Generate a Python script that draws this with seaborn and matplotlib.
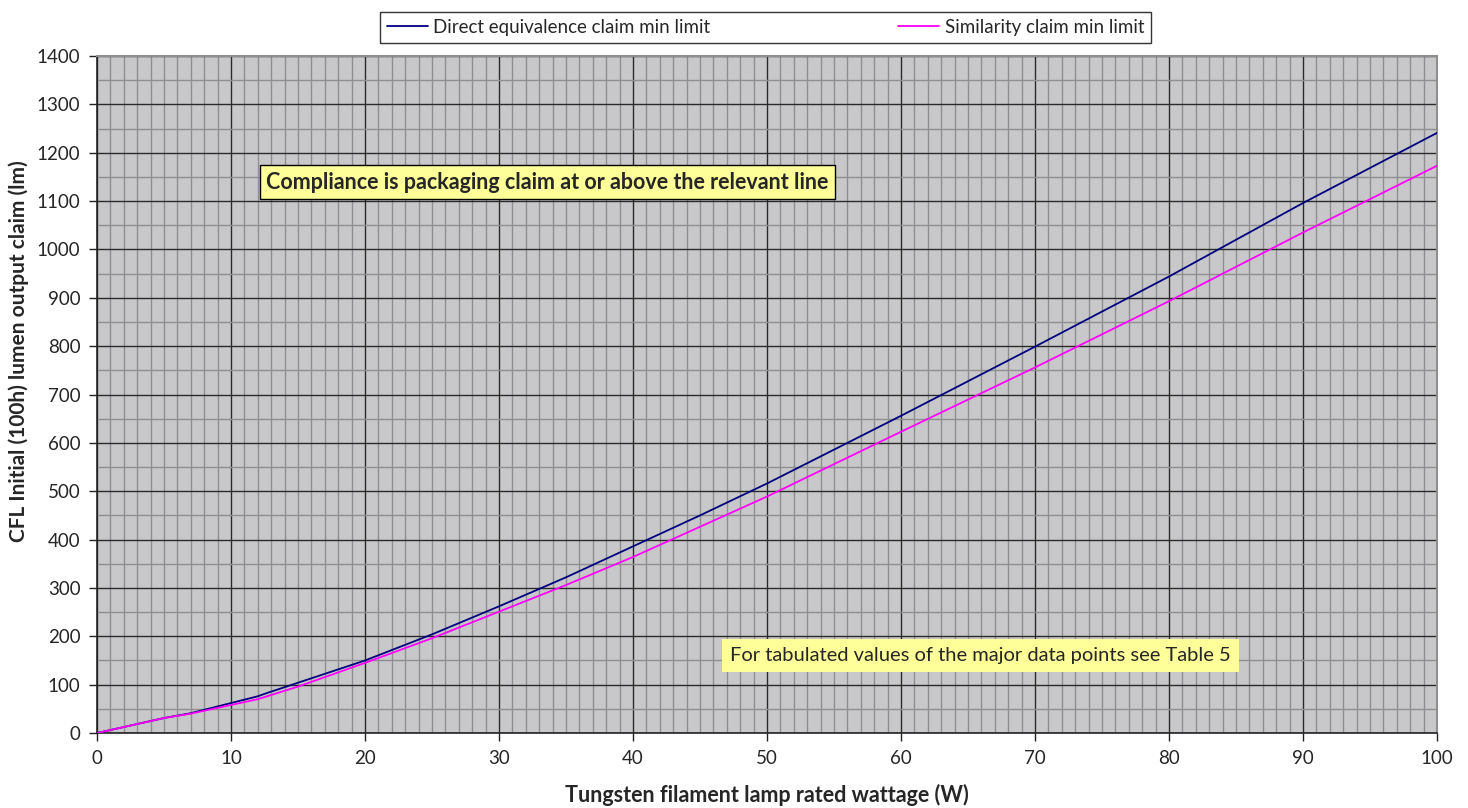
import pandas as pd
import matplotlib.pyplot as plt
import seaborn as sns
from matplotlib.ticker import MultipleLocator

# values
direct_w = [0, 5, 7, 8, 10, 12, 12.5, 15, 20, 25, 30, 35, 40, 45, 50, 60, 70, 80, 85, 90, 100]
direct_lm = [0, 31, 41, 48, 62, 76, 81, 104, 150, 204, 262, 322, 386, 450, 516, 656, 799, 944, 1020, 1096, 1241]

similar_w = [0, 5, 7, 10, 12, 15, 20, 25, 30, 35, 40, 50, 60, 70, 80, 90, 100]
similar_lm = [0, 31, 40, 58, 70, 96, 145, 196, 251, 306, 364, 489, 623, 756, 893, 1035, 1173]

df = pd.concat([
    pd.DataFrame({'w': direct_w, 'lm': direct_lm, 'serie': 'Direct equivalence claim min limit'}),
    pd.DataFrame({'w': similar_w, 'lm': similar_lm, 'serie': 'Similarity claim min limit'}),
])

sns.set_style('white')
plt.rcParams['font.family'] = ['Lato', 'DejaVu Sans']

fig = plt.figure(figsize=(14.68, 8.08), dpi=100)
ax = fig.add_axes([0.0661, 0.0928, 0.9128, 0.8379])
ax.set_facecolor('#c8c8ca')

sns.lineplot(data=df, x='w', y='lm', hue='serie', palette=['#000080', '#ff00ff'],
             linewidth=1.3, ax=ax, legend=True, zorder=5)

ax.set_xlim(0, 100)
ax.set_ylim(0, 1400)
ax.xaxis.set_major_locator(MultipleLocator(10))
ax.xaxis.set_minor_locator(MultipleLocator(1))
ax.yaxis.set_major_locator(MultipleLocator(100))
ax.yaxis.set_minor_locator(MultipleLocator(50))
ax.grid(which='minor', color='#8f8f8f', linewidth=1.0, zorder=1)
ax.grid(which='major', color='#2a2a2a', linewidth=1.0, zorder=2)
ax.set_axisbelow(True)
ax.tick_params(which='major', direction='out', length=6, width=1, color='#222222',
               labelsize=13.5, pad=6, left=True, bottom=True)
ax.tick_params(which='minor', length=0)

for s in ['left', 'bottom']:
    ax.spines[s].set_color('#222222')
    ax.spines[s].set_linewidth(1.2)
for s in ['top', 'right']:
    ax.spines[s].set_color('#8f8f8f')
    ax.spines[s].set_linewidth(1.5)

ax.set_xlabel('Tungsten filament lamp rated wattage (W)', fontsize=15.5, fontweight='bold')
ax.set_ylabel('CFL Initial (100h) lumen output claim (lm)', fontsize=15, fontweight='bold')
ax.xaxis.set_label_coords(0.5, -0.075)
ax.yaxis.set_label_coords(-0.051, 0.564)

handles, labels = ax.get_legend_handles_labels()
leg = fig.legend(handles, labels, loc='center', bbox_to_anchor=(0.5215, 0.966), ncol=2,
                 fontsize=13.5, frameon=True, fancybox=False, handlelength=2.2,
                 handletextpad=0.3, columnspacing=10, borderpad=0.35)
leg.get_frame().set_edgecolor('black')
leg.get_frame().set_linewidth(1.0)
ax.get_legend().remove()

ax.text(33.6, 1139, 'Compliance is packaging claim at or above the relevant line',
        ha='center', va='center', fontsize=15.5, fontweight='bold', zorder=6,
        bbox=dict(boxstyle='square,pad=0.3', facecolor='#ffff99', edgecolor='black', linewidth=1))
ax.text(65.9, 161, 'For tabulated values of the major data points see Table 5',
        ha='center', va='center', fontsize=14.5, zorder=6,
        bbox=dict(boxstyle='square,pad=0.4', facecolor='#ffff99', edgecolor='none'))

fig.savefig('out.png', dpi=100)
